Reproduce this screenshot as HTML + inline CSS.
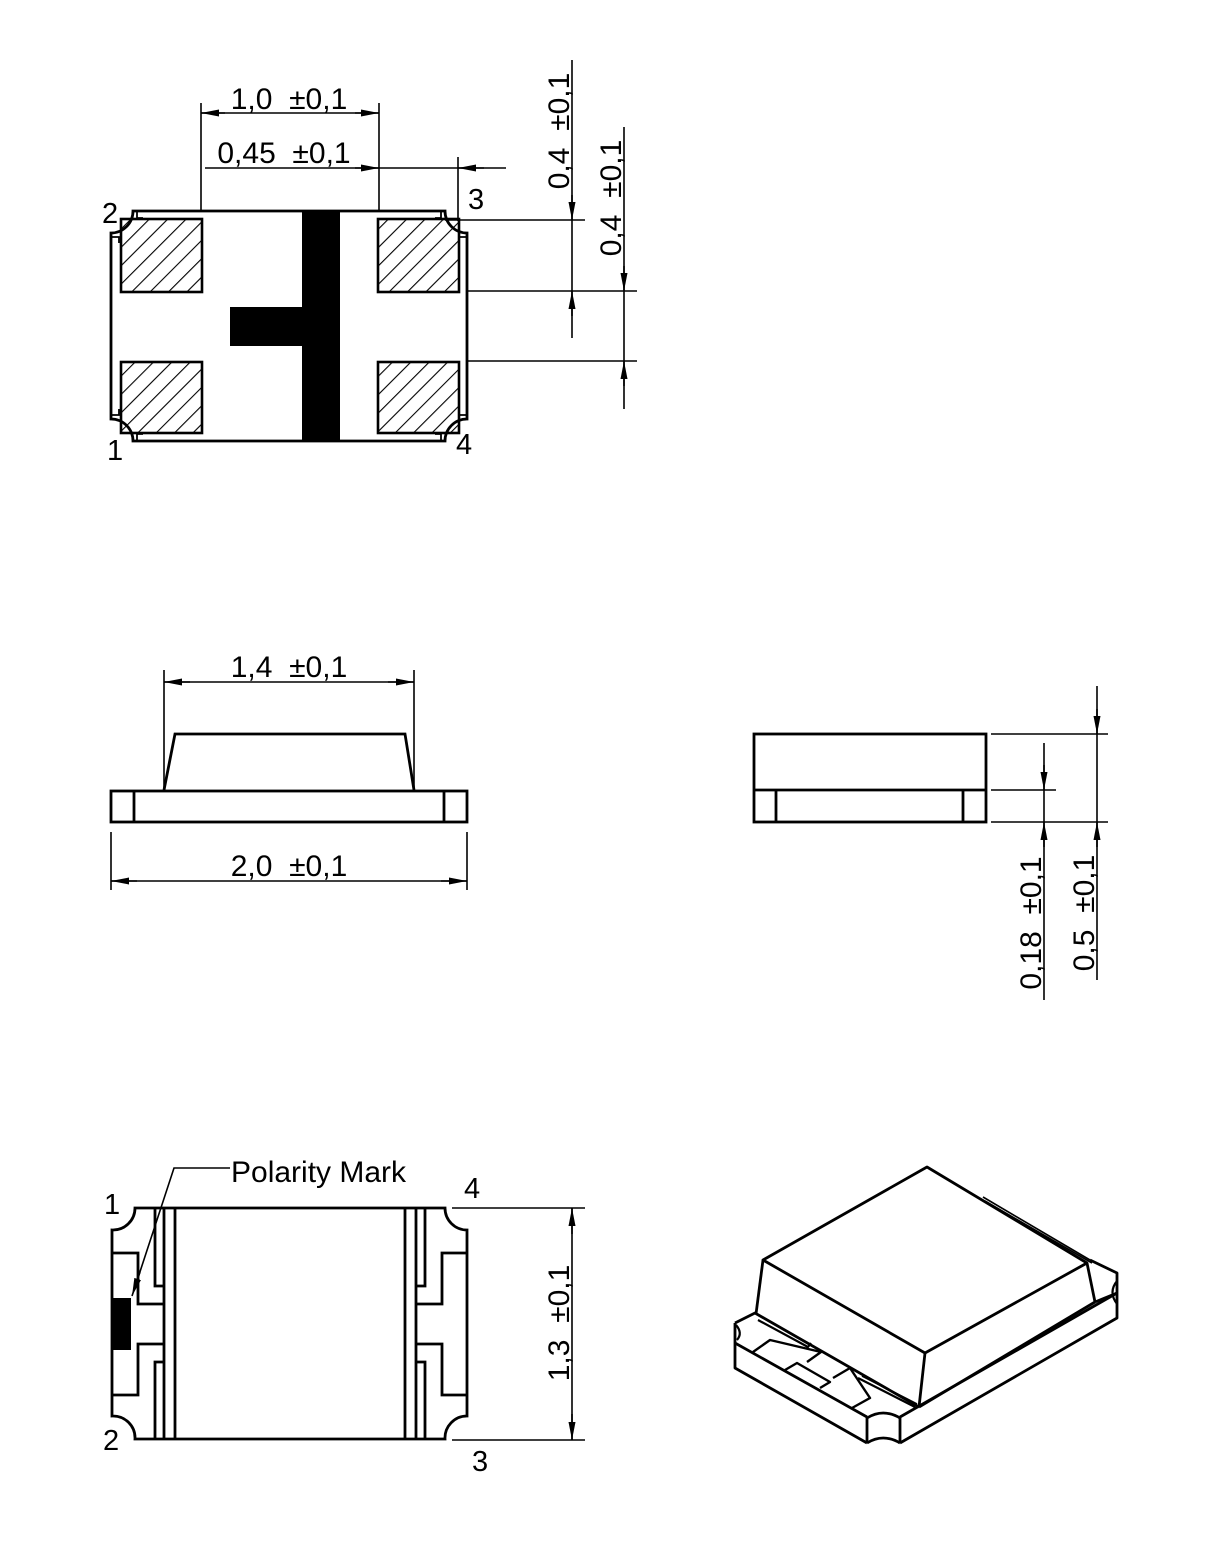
<!DOCTYPE html>
<html><head><meta charset="utf-8"><style>
html,body{margin:0;padding:0;background:#fff;}
svg{display:block;}
text{font-family:"Liberation Sans",Arial,sans-serif;fill:#000;white-space:pre;}
</style></head><body>
<svg width="1229" height="1558" viewBox="0 0 1229 1558" xmlns="http://www.w3.org/2000/svg" xml:space="preserve">
<defs>
<marker id="ar" viewBox="0 0 18 7" markerWidth="18" markerHeight="7" refX="18" refY="3.5" orient="auto" markerUnits="userSpaceOnUse">
<path d="M0,0 L18,3.5 L0,7 z" fill="#000"/></marker>
<pattern id="hatch" patternUnits="userSpaceOnUse" width="13" height="13" patternTransform="rotate(-45)">
<line x1="0" y1="0" x2="13" y2="0" stroke="#000" stroke-width="2.2"/></pattern>
</defs>
<g fill="none" stroke="#000" stroke-width="2.8">
<!-- TOP VIEW -->
<path d="M133,211 L445,211 A22,22 0 0 0 467,233 L467,419 A22,22 0 0 0 445,441 L133,441 A22,22 0 0 0 111,419 L111,233 A22,22 0 0 0 133,211 Z"/>
<path d="M137,212 L137,218 L143,218" stroke-width="1.8"/>
<path d="M441,212 L441,218 L435,218" stroke-width="1.8"/>
<path d="M137,440 L137,434 L143,434" stroke-width="1.8"/>
<path d="M441,440 L441,434 L435,434" stroke-width="1.8"/>
<path d="M112,237 L119,237 L119,243" stroke-width="1.8"/>
<path d="M112,415 L119,415 L119,409" stroke-width="1.8"/>
<path d="M466,237 L459,237 L459,243" stroke-width="1.8"/>
<path d="M466,415 L459,415 L459,409" stroke-width="1.8"/>
</g>
<g stroke="#000" stroke-width="2.6" fill="url(#hatch)">
<rect x="121" y="219" width="81" height="73"/>
<rect x="378" y="219" width="81" height="73"/>
<rect x="121" y="362" width="81" height="71"/>
<rect x="378" y="362" width="81" height="71"/>
</g>
<rect x="302" y="211" width="38" height="230" fill="#000"/>
<rect x="230" y="307" width="72" height="39" fill="#000"/>
<g font-size="29">
<text x="102" y="223">2</text>
<text x="107" y="460">1</text>
<text x="468" y="209">3</text>
<text x="456" y="454">4</text>
</g>
<!-- top dims -->
<g stroke="#000" stroke-width="1.6" fill="none">
<line x1="201" y1="103" x2="201" y2="211"/>
<line x1="379" y1="103" x2="379" y2="211"/>
<line x1="201" y1="113" x2="379" y2="113"/>
<path d="M225,113 L201,113" marker-end="url(#ar)"/>
<path d="M355,113 L379,113" marker-end="url(#ar)"/>
<line x1="205" y1="168" x2="506" y2="168"/>
<path d="M355,168 L379,168" marker-end="url(#ar)"/>
<path d="M484,168 L458,168" marker-end="url(#ar)"/>
<line x1="458" y1="157" x2="458" y2="221"/>
<line x1="445" y1="220" x2="585" y2="220"/>
<line x1="466" y1="291" x2="637" y2="291"/>
<line x1="466" y1="361" x2="637" y2="361"/>
<line x1="572" y1="60" x2="572" y2="338"/>
<path d="M572,195 L572,220" marker-end="url(#ar)"/>
<path d="M572,316 L572,291" marker-end="url(#ar)"/>
<line x1="624" y1="127" x2="624" y2="409"/>
<path d="M624,266 L624,291" marker-end="url(#ar)"/>
<path d="M624,386 L624,361" marker-end="url(#ar)"/>
</g>
<g font-size="30">
<text x="289" y="109" text-anchor="middle">1,0  ±0,1</text>
<text x="284" y="163" text-anchor="middle">0,45  ±0,1</text>
<text transform="translate(569,131) rotate(-90)" text-anchor="middle">0,4  ±0,1</text>
<text transform="translate(621,198) rotate(-90)" text-anchor="middle">0,4  ±0,1</text>
</g>

<!-- SIDE VIEW LEFT -->
<g fill="none" stroke="#000" stroke-width="2.8">
<rect x="111" y="791" width="356" height="31"/>
<line x1="134" y1="791" x2="134" y2="822"/>
<line x1="444" y1="791" x2="444" y2="822"/>
<path d="M164,790 L175,734 L405,734 L414,790"/>
</g>
<g stroke="#000" stroke-width="1.6" fill="none">
<line x1="164" y1="670" x2="164" y2="790"/>
<line x1="414" y1="670" x2="414" y2="790"/>
<line x1="164" y1="682" x2="414" y2="682"/>
<path d="M190,682 L164,682" marker-end="url(#ar)"/>
<path d="M388,682 L414,682" marker-end="url(#ar)"/>
<line x1="111" y1="832" x2="111" y2="890"/>
<line x1="467" y1="832" x2="467" y2="890"/>
<line x1="111" y1="881" x2="467" y2="881"/>
<path d="M137,881 L111,881" marker-end="url(#ar)"/>
<path d="M441,881 L467,881" marker-end="url(#ar)"/>
</g>
<g font-size="30">
<text x="289" y="677" text-anchor="middle">1,4  ±0,1</text>
<text x="289" y="876" text-anchor="middle">2,0  ±0,1</text>
</g>

<!-- SIDE VIEW RIGHT -->
<g fill="none" stroke="#000" stroke-width="2.8">
<rect x="754" y="734" width="232" height="88"/>
<line x1="754" y1="790" x2="986" y2="790"/>
<line x1="776" y1="790" x2="776" y2="822"/>
<line x1="963" y1="790" x2="963" y2="822"/>
</g>
<g stroke="#000" stroke-width="1.6" fill="none">
<line x1="991" y1="734" x2="1108" y2="734"/>
<line x1="991" y1="790" x2="1056" y2="790"/>
<line x1="991" y1="822" x2="1108" y2="822"/>
<line x1="1044" y1="743" x2="1044" y2="1000"/>
<path d="M1044,765 L1044,790" marker-end="url(#ar)"/>
<path d="M1044,847 L1044,822" marker-end="url(#ar)"/>
<line x1="1097" y1="686" x2="1097" y2="980"/>
<path d="M1097,709 L1097,734" marker-end="url(#ar)"/>
<path d="M1097,847 L1097,822" marker-end="url(#ar)"/>
</g>
<g font-size="30">
<text transform="translate(1041,923) rotate(-90)" text-anchor="middle">0,18  ±0,1</text>
<text transform="translate(1094,913) rotate(-90)" text-anchor="middle">0,5  ±0,1</text>
</g>

<!-- BOTTOM VIEW -->
<g fill="none" stroke="#000" stroke-width="2.8">
<path d="M135,1208 L445,1208 A22,22 0 0 0 467,1230 L467,1416 A22,22 0 0 0 445,1439 L135,1439 A22,22 0 0 0 112,1416 L112,1230 A22,22 0 0 0 135,1208 Z"/>
<path d="M155,1208 L155,1286 L164,1286"/>
<path d="M155,1439 L155,1362 L164,1362"/>
<line x1="164" y1="1208" x2="164" y2="1439"/>
<line x1="175" y1="1208" x2="175" y2="1439"/>
<path d="M112,1253 L138,1253 L138,1304 L164,1304"/>
<path d="M164,1344 L138,1344 L138,1395 L112,1395"/>
<path d="M425,1208 L425,1286 L416,1286"/>
<path d="M425,1439 L425,1362 L416,1362"/>
<line x1="416" y1="1208" x2="416" y2="1439"/>
<line x1="405" y1="1208" x2="405" y2="1439"/>
<path d="M467,1253 L442,1253 L442,1304 L416,1304"/>
<path d="M416,1344 L442,1344 L442,1395 L467,1395"/>
</g>
<rect x="112" y="1298" width="19" height="52" fill="#000"/>
<g stroke="#000" stroke-width="1.6" fill="none">
<path d="M230,1168 L174,1168 L134,1290" />
<path d="M140,1272 L132,1296" marker-end="url(#ar)"/>
<line x1="452" y1="1208" x2="585" y2="1208"/>
<line x1="452" y1="1440" x2="585" y2="1440"/>
<line x1="572" y1="1208" x2="572" y2="1440"/>
<path d="M572,1234 L572,1208" marker-end="url(#ar)"/>
<path d="M572,1414 L572,1440" marker-end="url(#ar)"/>
</g>
<g font-size="30">
<text x="231" y="1182">Polarity Mark</text>
<text x="104" y="1214" font-size="29">1</text>
<text x="103" y="1450" font-size="29">2</text>
<text x="464" y="1198" font-size="29">4</text>
<text x="472" y="1471" font-size="29">3</text>
<text transform="translate(569,1323) rotate(-90)" text-anchor="middle">1,3  ±0,1</text>
</g>

<!-- 3D VIEW -->
<g fill="none" stroke="#000" stroke-width="2.8" stroke-linejoin="round">
<path d="M927,1167 L763,1260 L925,1353 L1087,1263 Z"/>
<path d="M763,1260 L756,1314"/>
<path d="M925,1353 L919,1407"/>
<path d="M1087,1263 L1095,1302"/>
<path d="M919,1407 L1095,1302"/>
<path d="M983,1197 L1090,1260" stroke-width="1.6"/>
<path d="M985,1201 L1092,1263" stroke-width="1.6"/>
<!-- base -->
<path d="M735,1323 L755,1313 L919,1407"/>
<path d="M735,1323 L735,1368 L867,1443"/>
<path d="M735,1343 L867,1417"/>
<path d="M900,1417 L1117,1293"/>
<path d="M900,1443 L1117,1318 L1117,1273 L1090,1260"/>
<path d="M1095,1302 L1117,1293"/>
<path d="M867,1417 L867,1443"/>
<path d="M900,1417 L900,1443"/>
<path d="M867,1418 Q883,1408 900,1418"/>
<path d="M867,1443 Q883,1433 900,1443"/>
<path d="M1117,1281 Q1108,1292 1117,1304" stroke-width="2.2"/>
<path d="M736,1325 Q743,1333 737,1340" stroke-width="2.2"/>
<!-- pads -->
<path d="M758,1320 L808,1347 L811,1343" stroke-width="2.2"/>
<path d="M753,1352 L770,1340 L821,1352 L807,1362" stroke-width="2.4"/>
<path d="M785,1370 L797,1363 L830,1382 L820,1388" stroke-width="2.4"/>
<path d="M833,1378 L850,1368 L870,1398 L852,1408" stroke-width="2.4"/>
<path d="M858,1378 L915,1407" stroke-width="2.2"/>
<path d="M862,1376 L917,1404" stroke-width="1.8"/>
</g>
</svg>
</body></html>
